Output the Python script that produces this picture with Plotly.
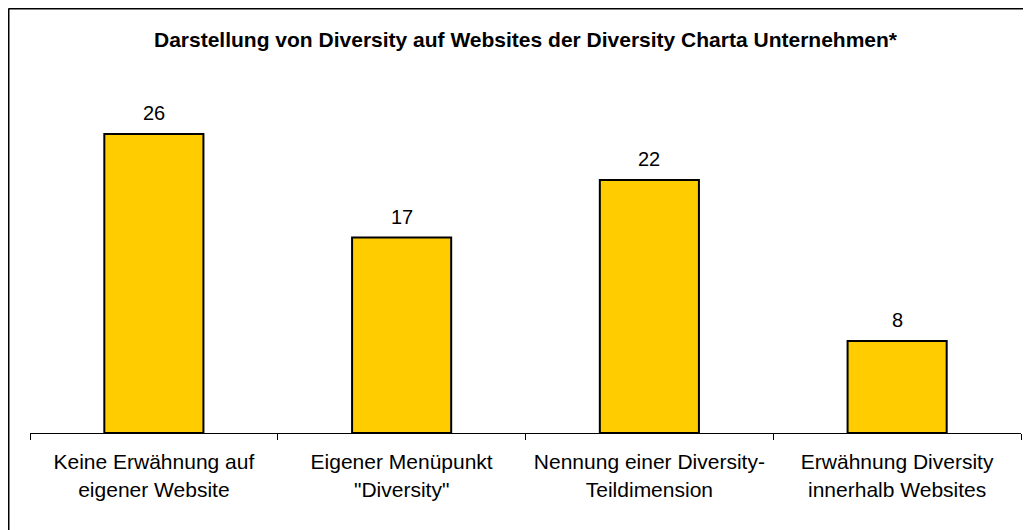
import plotly.graph_objects as go

categories = ["Keine Erwähnung auf<br>eigener Website",
              "Eigener Menüpunkt<br>\"Diversity\"",
              "Nennung einer Diversity-<br>Teildimension",
              "Erwähnung Diversity<br>innerhalb Websites"]
values = [26, 17, 22, 8]
title = "Darstellung von Diversity auf Websites der Diversity Charta Unternehmen*"

W, H = 1023, 522
ml, mr, mt, mb = 22, 10, 80, 97
pw, ph = W - ml - mr, H - mt - mb
FONT = "Liberation Sans, Arial"

fig = go.Figure()
fig.add_trace(go.Bar(
    x=categories, y=values, width=0.4,
    marker=dict(color="#FFCC00", line=dict(color="black", width=2)),
    hoverinfo="skip"
))
for c, v in zip(categories, values):
    fig.add_annotation(x=c, y=v, text=str(v), showarrow=False, yanchor="bottom",
                       yshift=8, font=dict(family=FONT, size=20, color="black"))

def px_to_paper_x(px):
    return (px - ml) / pw
def px_to_paper_y(py):
    return (H - mb - py) / ph

# figure border (left and top edges visible in reference)
fig.add_shape(type="line", xref="paper", yref="paper",
              x0=px_to_paper_x(0.5), x1=px_to_paper_x(0.5), y0=px_to_paper_y(H + 10), y1=px_to_paper_y(0.5),
              line=dict(color="black", width=2))
fig.add_shape(type="line", xref="paper", yref="paper",
              x0=px_to_paper_x(0.5), x1=px_to_paper_x(W + 10), y0=px_to_paper_y(0.5), y1=px_to_paper_y(0.5),
              line=dict(color="black", width=2))

fig.update_layout(
    width=W, height=H,
    margin=dict(l=ml, r=mr, t=mt, b=mb),
    paper_bgcolor="white", plot_bgcolor="white",
    showlegend=False,
    title=dict(text="<b>" + title + "</b>", x=0.5, xref="paper", xanchor="center",
               y=1 - 32 / H, yanchor="middle",
               font=dict(family=FONT, size=21, color="black")),
    font=dict(family=FONT, size=20, color="black"),
)
fig.update_xaxes(showline=True, linecolor="black", linewidth=1, ticks="outside",
                 tickson="boundaries", ticklen=6, tickcolor="black", showgrid=False,
                 ticklabelstandoff=10,
                 tickfont=dict(family=FONT, size=21, color="black"))
fig.update_yaxes(range=[0, 30], visible=False, showgrid=False)

fig.write_html("out.html")
